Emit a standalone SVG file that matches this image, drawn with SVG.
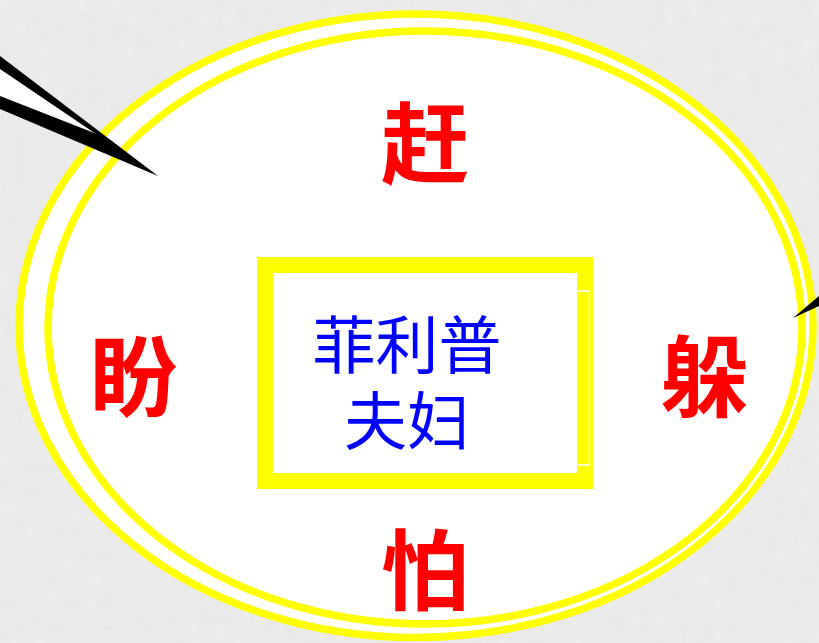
<svg xmlns="http://www.w3.org/2000/svg" width="819" height="643" viewBox="0 0 819 643">
<defs>
<filter id="tex" x="0" y="0" width="100%" height="100%">
<feTurbulence type="fractalNoise" baseFrequency="0.08" numOctaves="3" seed="4" result="n"/>
<feColorMatrix in="n" type="matrix" values="0 0 0 0 0.55  0 0 0 0 0.55  0 0 0 0 0.55  0 0 0 0.18 0"/>
</filter>
<style>
.ring{fill:none;stroke:#ffff00;stroke-width:7.5}
.red{font-family:"Noto Sans CJK SC","Noto Sans CJK JP",sans-serif;font-weight:700;font-size:88px;fill:#ff0000;text-anchor:middle}
.blue{font-family:"Noto Sans CJK SC","Noto Sans CJK JP",sans-serif;font-size:63px;fill:#0000ff;text-anchor:middle}
.wedge{fill:#000000}
</style>
</defs>
<rect width="819" height="643" fill="#eeeeee"/>
<rect width="819" height="643" filter="url(#tex)"/>
<g id="circle">
<ellipse cx="416" cy="325.75" rx="397" ry="311.75" fill="#ffffff"/>
<ellipse class="ring" cx="416" cy="325.75" rx="397" ry="311.75"/>
<ellipse class="ring" cx="425" cy="327.5" rx="377" ry="296.5"/>
</g>
<g id="connectors">
<polygon points="0,68 102,137 0,98" fill="#ffffff"/>
<polygon class="wedge" points="0,56 158,176 0,69"/>
<polygon class="wedge" points="0,96 102,136 158,176 0,109"/>
<polygon class="wedge" points="819,296 793,318 819,306"/>
</g>
<g id="center">
<rect x="257" y="257" width="336" height="232" fill="#ffff00"/>
<rect x="273" y="273" width="304" height="200" fill="#ffffff"/>
<polyline points="577,291 589.5,291 589.5,465 577,465" fill="none" stroke="#ffffff" stroke-width="1.3"/>
<text class="blue" x="407" y="368">菲利普</text>
<text class="blue" x="407" y="444">夫妇</text>
</g>
<g id="top"><text class="red" x="425" y="176">赶</text></g>
<g id="left"><text class="red" x="134" y="409">盼</text></g>
<g id="right"><text class="red" x="705" y="409">躲</text></g>
<g id="bottom"><text class="red" x="425" y="603">怕</text></g>
</svg>
